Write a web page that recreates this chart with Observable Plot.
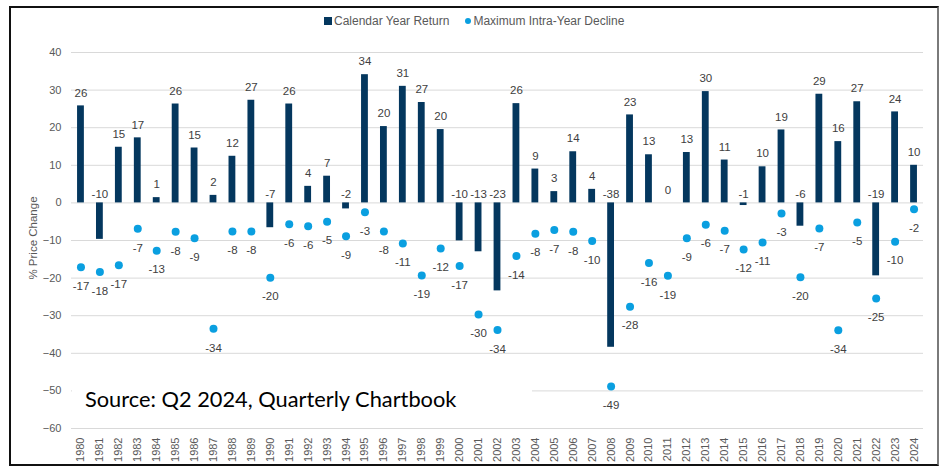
<!DOCTYPE html>
<html>
<head>
<meta charset="utf-8">
<script src="https://cdn.jsdelivr.net/npm/d3@7"></script>
<script src="https://cdn.jsdelivr.net/npm/@observablehq/plot@0.6"></script>
<style>
  html, body { margin: 0; padding: 0; background: #fff; }
  #wrap { position: relative; width: 940px; height: 468px; overflow: hidden; background: #fff; font-family: "Liberation Sans", Arial, sans-serif; }
  #frame { position: absolute; left: 9px; top: 6px; width: 926px; height: 456px; border: 2px solid #111; border-right: 2px solid #7a7a7a; box-sizing: content-box; pointer-events: none; }
  #chart { position: absolute; left: 0; top: 0; }
  #legend { position: absolute; left: 324px; top: 14px; display: flex; align-items: center; font-family: "Liberation Sans Narrow", "Liberation Sans", Arial, sans-serif; font-size: 12px; color: #595959; white-space: nowrap; }
  #legend .sq { display: inline-block; width: 8px; height: 8px; background: #04375e; margin-right: 2px; }
  #legend .dt { display: inline-block; width: 6px; height: 6px; border-radius: 50%; background: #0a9fe0; margin-right: 2px; margin-left: 16px; }
  #ylab { position: absolute; left: 33px; top: 238px; transform: translate(-50%, -50%) rotate(-90deg); font-size: 11.5px; color: #595959; white-space: nowrap; }
  #source { position: absolute; left: 72px; top: 378px; width: 460px; height: 42px; background: #fff; font-family: Lato, "Open Sans", sans-serif; font-size: 21.8px; color: #000; padding-left: 13px; box-sizing: border-box; line-height: 42px; white-space: nowrap; }
</style>
</head>
<body>
<div id="wrap">
  <div id="chart"></div>
  <div id="legend"><span class="sq"></span><span>Calendar Year Return</span><span class="dt"></span><span>Maximum Intra-Year Decline</span></div>
  <div id="ylab">% Price Change</div>
  <div id="source">Source: Q2 2024, Quarterly Chartbook</div>
  <div id="frame"></div>
</div>
<script>
// Years 1980–2024
const years = [1980,1981,1982,1983,1984,1985,1986,1987,1988,1989,
               1990,1991,1992,1993,1994,1995,1996,1997,1998,1999,
               2000,2001,2002,2003,2004,2005,2006,2007,2008,2009,
               2010,2011,2012,2013,2014,2015,2016,2017,2018,2019,
               2020,2021,2022,2023,2024];

// Calendar year return (%)
const calendarReturn = [25.8,-9.7,14.8,17.3,1.4,26.3,14.6,2.0,12.4,27.3,
                        -6.6,26.3,4.4,7.1,-1.6,34.1,20.3,31.0,26.7,19.5,
                        -10.1,-13.0,-23.4,26.4,9.0,3.0,13.6,3.6,-38.4,23.4,
                        12.8,0.0,13.4,29.6,11.4,-0.7,9.6,19.4,-6.2,28.9,
                        16.3,26.9,-19.4,24.2,10.0];

// Maximum intra-year decline (%)
const maxDecline = [-17.1,-18.4,-16.6,-6.9,-12.7,-7.7,-9.4,-33.5,-7.6,-7.6,
                    -19.9,-5.7,-6.2,-5.0,-8.9,-2.5,-7.6,-10.8,-19.3,-12.1,
                    -16.8,-29.7,-33.8,-14.1,-8.2,-7.2,-7.7,-10.1,-48.8,-27.6,
                    -16.0,-19.4,-9.4,-5.8,-7.4,-12.4,-10.5,-2.8,-19.8,-6.8,
                    -33.9,-5.2,-25.4,-10.3,-1.7];

const yTicks = [-60,-50,-40,-30,-20,-10,0,10,20,30,40];

const barColor = "#04375e";
const dotColor = "#0a9fe0";
const labelColor = "#404040";

const fmt = v => { const r = Math.sign(v) * Math.round(Math.abs(v)); return r === 0 ? "0" : String(r); };

const data = years.map((y, i) => ({year: String(y), ret: calendarReturn[i], dec: maxDecline[i]}));

const chart = Plot.plot({
  width: 940,
  height: 468,
  marginLeft: 71,
  marginRight: 17,
  marginTop: 52,
  marginBottom: 40,
  style: {fontFamily: "'Liberation Sans', Arial, sans-serif", fontSize: "11px", color: "#595959", background: "transparent"},
  x: {type: "band", domain: years.map(String), paddingInner: 0.64, paddingOuter: 0.32, label: null},
  y: {domain: [-60, 40], label: null},
  marks: [
    Plot.gridY(yTicks, {stroke: "#d9d9d9", strokeOpacity: 1, strokeWidth: 1}),
    Plot.axisY(yTicks, {tickSize: 0, tickPadding: 10, label: null, fill: "#595959", fontSize: 11}),
    Plot.axisX({tickSize: 0, tickPadding: 9, tickRotate: -90, label: null, fill: "#595959", fontSize: 11}),
    Plot.barY(data, {x: "year", y: "ret", fill: barColor}),
    Plot.dot(data, {x: "year", y: "dec", r: 4, fill: dotColor, stroke: "none"}),
    Plot.text(data.filter(d => d.ret >= 0), {x: "year", y: "ret", text: d => fmt(d.ret), dy: -13, fill: labelColor, fontSize: 11.5}),
    Plot.text(data.filter(d => d.ret < 0), {x: "year", y: () => 0, text: d => fmt(d.ret), dy: -9, fill: labelColor, fontSize: 11.5}),
    Plot.text(data, {x: "year", y: "dec", text: d => fmt(d.dec), dy: 19, fill: labelColor, fontSize: 11.5})
  ]
});
document.getElementById("chart").appendChild(chart);
</script>
</body>
</html>
